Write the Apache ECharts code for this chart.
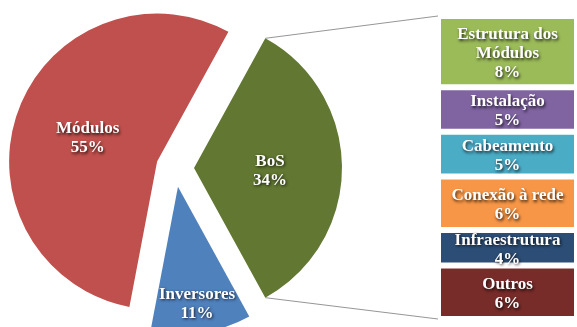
<!DOCTYPE html>
<html>
<head>
<meta charset="utf-8">
<script src="https://cdn.jsdelivr.net/npm/echarts@6/dist/echarts.min.js"></script>
<style>
  html, body { margin: 0; padding: 0; background: #ffffff; }
  #chart { width: 577px; height: 327px; }
</style>
</head>
<body>
<div id="chart"></div>
<script>
// Composição de custos: pizza principal e detalhamento do BoS em barra empilhada
const pieNames = ['Módulos', 'Inversores', 'BoS'];
const pieValues = [55, 11, 34];
const pieColors = ['#C0504D', '#4F81BD', '#617732'];

const bosNames = ['Estrutura dos Módulos', 'Instalação', 'Cabeamento', 'Conexão à rede', 'Infraestrutura', 'Outros'];
const bosValues = [8, 5, 5, 6, 4, 6];
const bosColors = ['#9BBB59', '#8064A2', '#4BACC6', '#F79646', '#2C4D75', '#772C2A'];

// layout
const PIE_CENTER = [175, 168];
const PIE_RADIUS = 148;
const EXPLODE = 19;
const GRID = { left: 438, right: -2, top: 16, bottom: 8 };

const FONT = 'Liberation Serif';
const labelText = {
  color: '#ffffff',
  fontFamily: FONT,
  fontWeight: 'bold',
  fontSize: 17,
  lineHeight: 19,
  textShadowColor: 'rgba(0,0,0,0.8)',
  textShadowBlur: 3,
  textShadowOffsetX: 1,
  textShadowOffsetY: 1.5
};

const pieTotal = pieValues.reduce((a, b) => a + b, 0);
const bosIndex = pieNames.indexOf('BoS');
const bosTotal = bosValues.reduce((a, b) => a + b, 0);
// the BoS slice is centred on the horizontal, facing the bar
const halfBos = pieValues[bosIndex] / pieTotal * 180;

const chart = echarts.init(document.getElementById('chart'), null, { renderer: 'canvas' });

const pieSeries = {
  type: 'pie',
  center: PIE_CENTER,
  radius: PIE_RADIUS,
  startAngle: halfBos,
  clockwise: false,
  selectedMode: 'multiple',
  selectedOffset: EXPLODE,
  avoidLabelOverlap: false,
  silent: true,
  label: Object.assign({ show: true, position: 'inside', formatter: '{b}\n{c}%' }, labelText),
  labelLine: { show: false },
  labelLayout: function (p) {
    const name = pieNames[p.dataIndex];
    // narrow slice: label sits further out toward the rim
    if (name === 'Inversores') return { dx: 7, dy: 41 };
    if (name === 'Módulos') return { dx: 3, dy: 3 };
    return { dx: -1, dy: 3 };
  },
  data: pieNames.map((n, i) => ({
    name: n,
    value: pieValues[i],
    selected: true,
    itemStyle: { color: pieColors[i] }
  }))
};

// stacked bar: drawn bottom-up, so iterate from the last category
const order = bosNames.map((n, i) => i).reverse();
const barSeries = order.map(i => ({
  type: 'bar',
  name: bosNames[i],
  stack: 'bos',
  barWidth: '100%',
  silent: true,
  itemStyle: { color: bosColors[i], borderColor: '#ffffff', borderWidth: 3 },
  label: Object.assign({
    show: true,
    position: 'inside',
    offset: [0, 2],
    formatter: p => p.seriesName.replace(' dos ', ' dos\n') + '\n' + p.value + '%'
  }, labelText),
  data: [bosValues[i]]
}));

chart.setOption({
  animation: false,
  backgroundColor: '#ffffff',
  grid: GRID,
  xAxis: { type: 'category', data: ['BoS'], show: false, boundaryGap: true },
  yAxis: { type: 'value', min: 0, max: bosTotal, show: false },
  series: [pieSeries].concat(barSeries)
});

// connector lines from the BoS slice corners to the bar corners
const rad = halfBos * Math.PI / 180;
const cx = PIE_CENTER[0] + EXPLODE;
const cy = PIE_CENTER[1];
const sliceTop = [cx + PIE_RADIUS * Math.cos(rad), cy - PIE_RADIUS * Math.sin(rad)];
const sliceBottom = [cx + PIE_RADIUS * Math.cos(rad), cy + PIE_RADIUS * Math.sin(rad)];
const barTopY = chart.convertToPixel({ yAxisIndex: 0 }, bosTotal);
const barBottomY = chart.convertToPixel({ yAxisIndex: 0 }, 0);
const barLeftX = GRID.left;

chart.setOption({
  graphic: [
    { type: 'line', silent: true, z: 10,
      shape: { x1: sliceTop[0], y1: sliceTop[1], x2: barLeftX, y2: barTopY },
      style: { stroke: '#969696', lineWidth: 1 } },
    { type: 'line', silent: true, z: 10,
      shape: { x1: sliceBottom[0], y1: sliceBottom[1], x2: barLeftX, y2: barBottomY },
      style: { stroke: '#969696', lineWidth: 1 } }
  ]
});
</script>
</body>
</html>
